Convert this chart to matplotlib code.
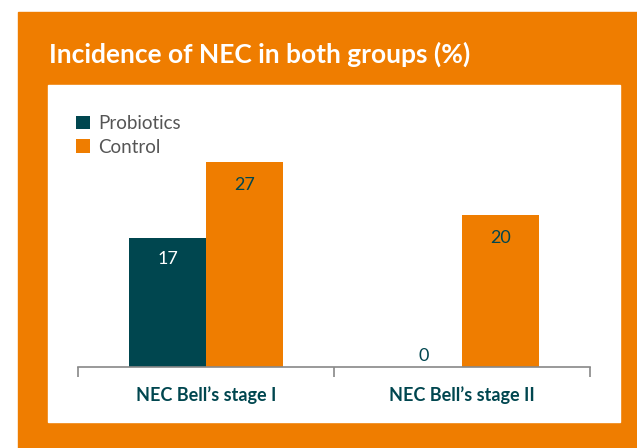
import matplotlib.pyplot as plt
import numpy as np
from matplotlib.patches import Rectangle

categories = ["NEC Bell\u2019s stage I", "NEC Bell\u2019s stage II"]
probiotics = [17, 0]
control = [27, 20]

orange = "#EF7D00"
teal = "#00464F"

W, H = 637, 448
fig = plt.figure(figsize=(W / 100, H / 100), dpi=100, facecolor="white")


def px(x0, y0, x1, y1):
    # pixel box (top-left origin) -> figure coords
    return (x0 / W, 1 - y1 / H), (x1 - x0) / W, (y1 - y0) / H


xy, w, h = px(18, 12, W, H)
fig.patches.append(Rectangle(xy, w, h, transform=fig.transFigure, color=orange, zorder=-10))
xy, w, h = px(48, 85, 620, 422)
fig.patches.append(Rectangle(xy, w, h, transform=fig.transFigure, color="white", zorder=-9))

fig.text(49 / W, 1 - 63 / H, "Incidence of NEC in both groups (%)", color="white",
         fontsize=19, fontweight="bold", family="Lato", va="baseline", ha="left")

ax = fig.add_axes([78 / W, 1 - 367 / H, (590 - 78) / W, (367 - 120) / H])
ax.set_facecolor("none")

x = np.arange(len(categories))
bw = 0.3
b1 = ax.bar(x - bw / 2, probiotics, bw, color=teal, label="Probiotics")
b2 = ax.bar(x + bw / 2, control, bw, color=orange, label="Control")

for rect, v in zip(b1, probiotics):
    cx = rect.get_x() + rect.get_width() / 2
    if v > 0:
        ax.text(cx, v - 2.8, str(v), ha="center", va="center", color="white",
                fontsize=13, family="Lato")
    else:
        ax.text(cx, v + 1.5, str(v), ha="center", va="center", color=teal,
                fontsize=13, family="Lato")
for rect, v in zip(b2, control):
    cx = rect.get_x() + rect.get_width() / 2
    ax.text(cx, v - 3.0, str(v), ha="center", va="center", color=teal,
            fontsize=13, family="Lato")

ax.set_xlim(-0.5, 1.5)
ax.set_ylim(0, 32.5)
for s in ["top", "right", "left"]:
    ax.spines[s].set_visible(False)
ax.spines["bottom"].set_color("#888888")
ax.spines["bottom"].set_linewidth(1.2)
ax.set_yticks([])
ax.set_xticks([-0.5, 0.5, 1.5])
ax.set_xticklabels([])
ax.tick_params(axis="x", length=7, color="#888888", width=1.2)
ax.set_xticks(x, minor=True)
ax.set_xticklabels(categories, minor=True, fontsize=13, fontweight="bold",
                   color=teal, family="Lato")
ax.tick_params(axis="x", which="minor", length=0, pad=14)

leg = fig.legend(handles=[b1, b2], loc="upper left", bbox_to_anchor=(76 / W, 1 - 115 / H),
                 frameon=False, handlelength=0.75, handleheight=0.75,
                 handletextpad=0.45, labelspacing=0.35, borderaxespad=0, borderpad=0,
                 prop={"family": "Lato", "size": 13.5})
for t in leg.get_texts():
    t.set_color("#555555")

fig.savefig("out.png", dpi=100)
